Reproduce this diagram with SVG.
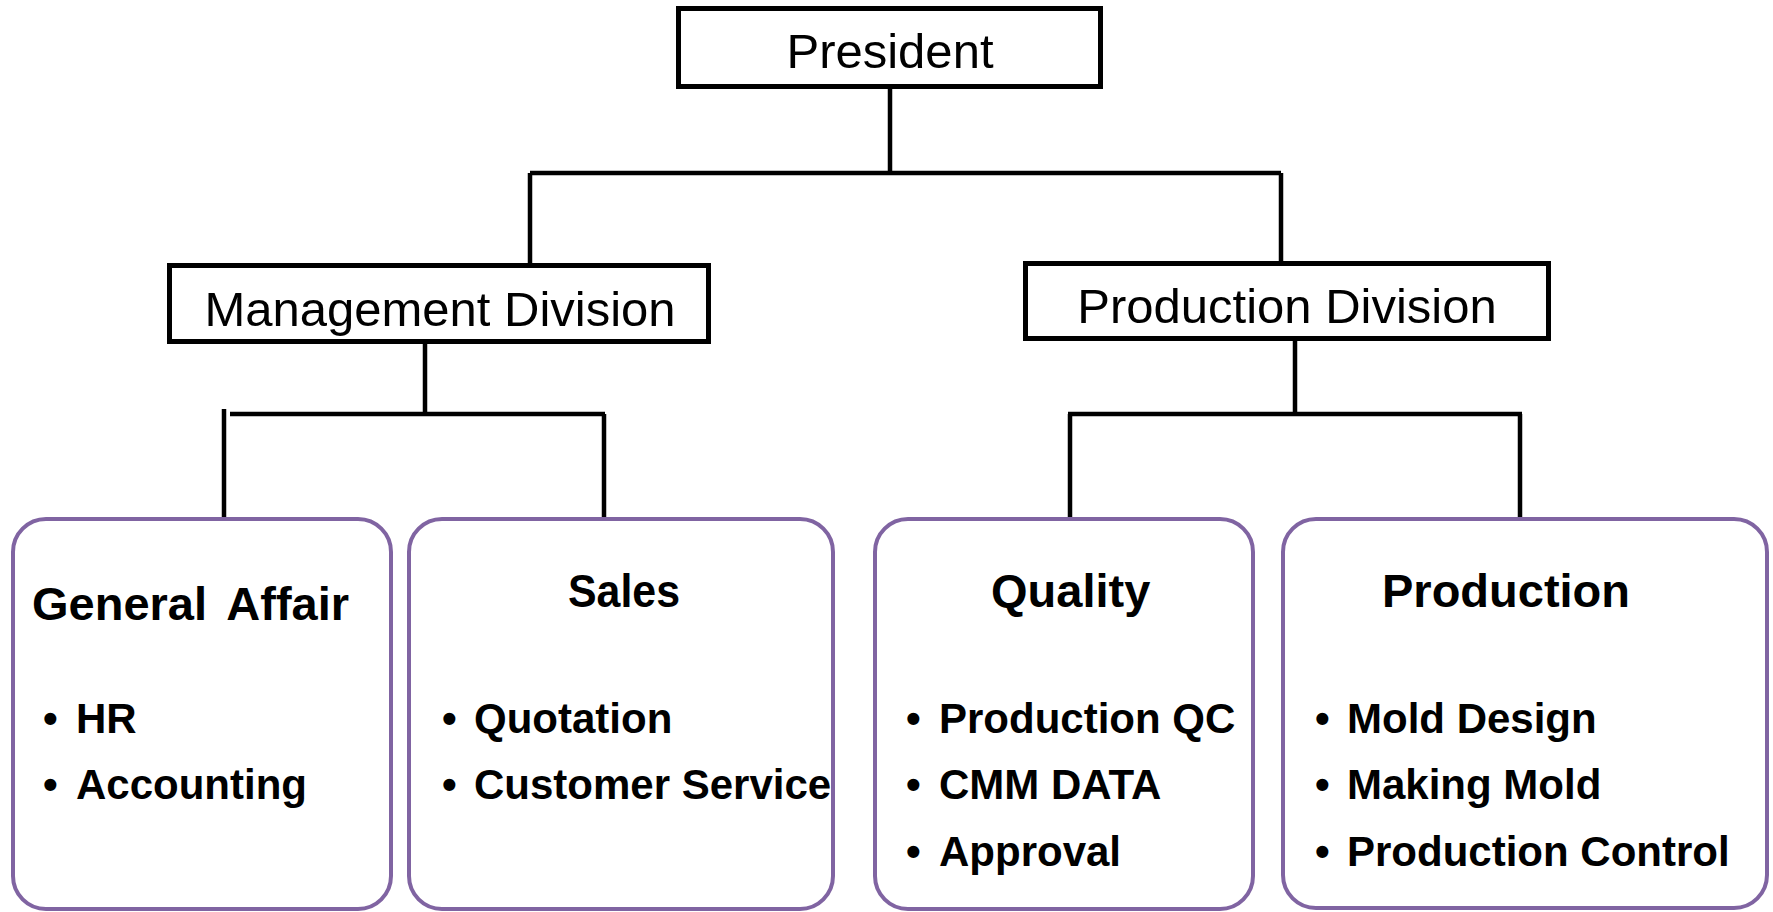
<svg xmlns="http://www.w3.org/2000/svg" width="1773" height="912" viewBox="0 0 1773 912">
<style>
.top{fill:#fff;stroke:#000;stroke-width:5}
.dept{fill:#fff;stroke:#8064A2;stroke-width:4}
.lbl{font-family:"Liberation Sans",Arial,sans-serif;font-size:49px;fill:#000}
.ttl{font-family:"Liberation Sans",Arial,sans-serif;font-size:47px;font-weight:bold;fill:#000}
.itm{font-family:"Liberation Sans",Arial,sans-serif;font-size:42px;font-weight:bold;fill:#000}
.con{fill:none;stroke:#000;stroke-width:4.5}
</style>
<rect width="1773" height="912" fill="#fff"/>
<g id="connectors">
<path class="con" d="M890 87V173M530 173H1281M530 173V263M1281 173V261"/>
<path class="con" d="M425 343V414M230 414H605M224 409V519M604 414V519"/>
<path class="con" d="M1295 340V414M1068 414H1522M1070 414V519M1520 414V519"/>
</g>
<g id="president">
<rect class="top" x="678.5" y="8.5" width="422" height="78"/>
<text class="lbl" x="890" y="68" text-anchor="middle">President</text>
</g>
<g id="management">
<rect class="top" x="169.5" y="265.5" width="539" height="76"/>
<text class="lbl" x="440" y="326" text-anchor="middle">Management Division</text>
</g>
<g id="production-division">
<rect class="top" x="1025.5" y="263.5" width="523" height="75"/>
<text class="lbl" x="1287" y="323" text-anchor="middle">Production Division</text>
</g>
<g id="general-affair">
<rect class="dept" x="13" y="519" width="378" height="390" rx="33"/>
<text class="ttl" x="32" y="620" word-spacing="8">General Affair</text>
<text class="itm" y="733"><tspan x="43">•</tspan><tspan x="76">HR</tspan></text>
<text class="itm" y="799"><tspan x="43">•</tspan><tspan x="76">Accounting</tspan></text>
</g>
<g id="sales">
<rect class="dept" x="409" y="519" width="424" height="390" rx="33"/>
<text class="ttl" x="568" y="607" textLength="112" lengthAdjust="spacingAndGlyphs">Sales</text>
<text class="itm" y="733"><tspan x="442">•</tspan><tspan x="474">Quotation</tspan></text>
<text class="itm" y="799"><tspan x="442">•</tspan><tspan x="474">Customer Service</tspan></text>
</g>
<g id="quality">
<rect class="dept" x="875" y="519" width="378" height="390" rx="33"/>
<text class="ttl" x="991" y="607">Quality</text>
<text class="itm" y="733"><tspan x="906">•</tspan><tspan x="939">Production QC</tspan></text>
<text class="itm" y="799"><tspan x="906">•</tspan><tspan x="939">CMM DATA</tspan></text>
<text class="itm" y="866"><tspan x="906">•</tspan><tspan x="939">Approval</tspan></text>
</g>
<g id="production">
<rect class="dept" x="1283" y="519" width="484" height="389" rx="33"/>
<text class="ttl" x="1382" y="607">Production</text>
<text class="itm" y="733"><tspan x="1315">•</tspan><tspan x="1347">Mold Design</tspan></text>
<text class="itm" y="799"><tspan x="1315">•</tspan><tspan x="1347">Making Mold</tspan></text>
<text class="itm" y="866"><tspan x="1315">•</tspan><tspan x="1347">Production Control</tspan></text>
</g>
</svg>
